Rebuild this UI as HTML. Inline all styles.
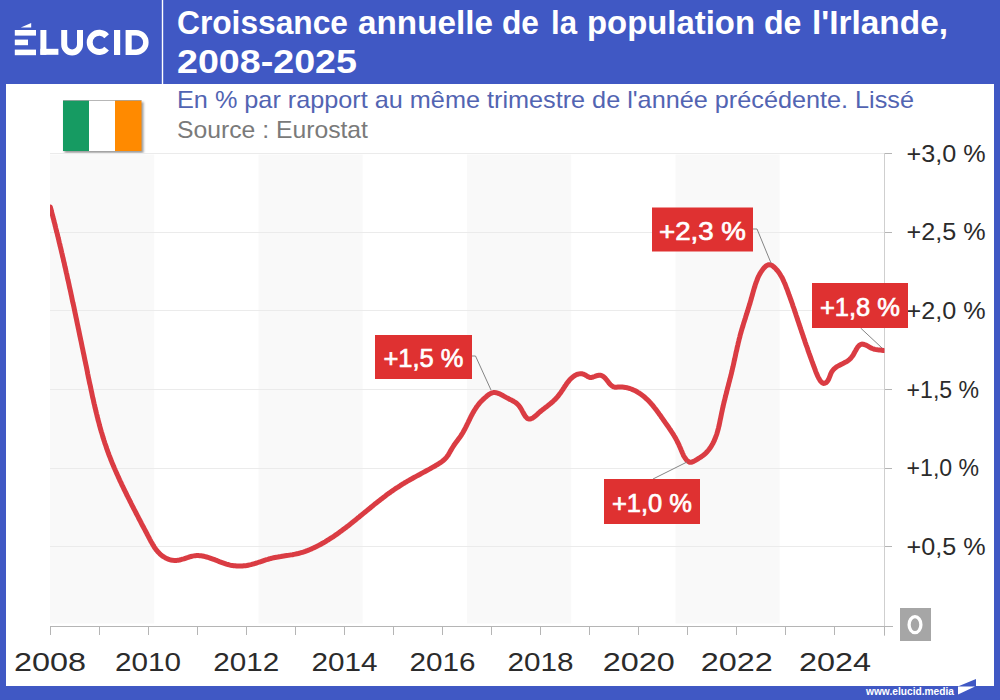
<!DOCTYPE html>
<html><head><meta charset="utf-8"><style>
html,body{margin:0;padding:0;background:#fff;}
body{width:1000px;height:700px;overflow:hidden;}
svg{display:block;font-family:"Liberation Sans",sans-serif;}
</style></head><body>
<svg width="1000" height="700" viewBox="0 0 1000 700">
<rect x="0" y="0" width="1000" height="700" fill="#4058c4"/>
<rect x="6" y="84" width="988" height="602" fill="#fff"/>
<line x1="162.5" y1="0" x2="162.5" y2="84" stroke="#fff" stroke-width="1.4"/>
<!-- logo -->
<g fill="#fff">
<rect x="14.8" y="30" width="21.2" height="5.6"/>
<rect x="14.8" y="39.6" width="13.2" height="5.6"/>
<rect x="14.8" y="49.6" width="21.2" height="5.6"/>
<polygon points="20.8,27.6 31.2,23 31.2,27.6"/>
<rect x="40.4" y="30" width="6" height="24.8"/>
<rect x="40.4" y="48.8" width="18" height="6"/>
<path d="M125.6,29.9 H136.1 A12.5,12.5 0 0 1 136.1,54.9 H125.6 Z M131.7,35.4 V49.4 H136.1 A7,7 0 0 0 136.1,35.4 Z" fill-rule="evenodd"/>
<rect x="114" y="30" width="6.2" height="25"/>
</g>
<g fill="none" stroke="#fff" stroke-width="6">
<path d="M64.2,30 V44.55 A7.9,7.9 0 0 0 80,44.55 V30"/>
<path d="M106.65,36.2 A9.6,9.6 0 1 0 106.65,48.6"/>
</g>
<!-- title -->
<g font-size="34" font-weight="bold" fill="#fff"><text x="177" y="34" textLength="171" lengthAdjust="spacingAndGlyphs">Croissance</text><text x="358" y="34" textLength="135" lengthAdjust="spacingAndGlyphs">annuelle</text><text x="502" y="34" textLength="37" lengthAdjust="spacingAndGlyphs">de</text><text x="551" y="34" textLength="26" lengthAdjust="spacingAndGlyphs">la</text><text x="587" y="34" textLength="168" lengthAdjust="spacingAndGlyphs">population</text><text x="764" y="34" textLength="37.5" lengthAdjust="spacingAndGlyphs">de</text><text x="812" y="34" textLength="136" lengthAdjust="spacingAndGlyphs">l'Irlande,</text></g>
<text x="177" y="73" font-size="34" font-weight="bold" fill="#fff" textLength="180" lengthAdjust="spacingAndGlyphs">2008-2025</text>
<text x="177" y="108.3" font-size="24" fill="#5264b2" textLength="737" lengthAdjust="spacingAndGlyphs">En % par rapport au même trimestre de l'année précédente. Lissé</text>
<text x="177" y="137.6" font-size="24" fill="#7a7a7a" textLength="191" lengthAdjust="spacingAndGlyphs">Source : Eurostat</text>
<!-- flag -->
<filter id="fshadow" x="-10%" y="-10%" width="130%" height="130%"><feGaussianBlur stdDeviation="0.8"/></filter>
<rect x="64.5" y="102" width="79" height="51" fill="#9c9c9c" filter="url(#fshadow)"/>
<rect x="63" y="100.5" width="26" height="50.5" fill="#169b62"/>
<rect x="89" y="100.5" width="26" height="50.5" fill="#ffffff"/>
<rect x="115" y="100.5" width="26.5" height="50.5" fill="#ff8a00"/>
<rect x="63" y="100" width="78.5" height="1" fill="#8a8a8a" opacity="0.6"/>
<defs><clipPath id="plotclip"><rect x="50" y="140" width="834.5" height="500"/></clipPath></defs>
<!-- chart -->
<rect x="50.0" y="154.5" width="104.2" height="469" fill="#f9f9f9"/><rect x="258.5" y="154.5" width="104.2" height="469" fill="#f9f9f9"/><rect x="467.0" y="154.5" width="104.2" height="469" fill="#f9f9f9"/><rect x="675.5" y="154.5" width="104.2" height="469" fill="#f9f9f9"/>
<line x1="50" y1="546.5" x2="884" y2="546.5" stroke="#ebebeb" stroke-width="1"/><line x1="884" y1="546.5" x2="892" y2="546.5" stroke="#b5b5b5" stroke-width="1"/><line x1="50" y1="468.5" x2="884" y2="468.5" stroke="#ebebeb" stroke-width="1"/><line x1="884" y1="468.5" x2="892" y2="468.5" stroke="#b5b5b5" stroke-width="1"/><line x1="50" y1="389.5" x2="884" y2="389.5" stroke="#ebebeb" stroke-width="1"/><line x1="884" y1="389.5" x2="892" y2="389.5" stroke="#b5b5b5" stroke-width="1"/><line x1="50" y1="310.5" x2="884" y2="310.5" stroke="#ebebeb" stroke-width="1"/><line x1="884" y1="310.5" x2="892" y2="310.5" stroke="#b5b5b5" stroke-width="1"/><line x1="50" y1="232.5" x2="884" y2="232.5" stroke="#ebebeb" stroke-width="1"/><line x1="884" y1="232.5" x2="892" y2="232.5" stroke="#b5b5b5" stroke-width="1"/><line x1="50" y1="153.5" x2="884" y2="153.5" stroke="#ebebeb" stroke-width="1"/><line x1="884" y1="153.5" x2="892" y2="153.5" stroke="#b5b5b5" stroke-width="1"/>
<line x1="884.5" y1="153" x2="884.5" y2="636" stroke="#cfcfcf" stroke-width="1"/>
<line x1="50" y1="626.5" x2="893" y2="626.5" stroke="#b5b5b5" stroke-width="1"/>
<line x1="50.5" y1="626" x2="50.5" y2="635" stroke="#b5b5b5" stroke-width="1"/><line x1="99.5" y1="626" x2="99.5" y2="635" stroke="#b5b5b5" stroke-width="1"/><line x1="148.5" y1="626" x2="148.5" y2="635" stroke="#b5b5b5" stroke-width="1"/><line x1="197.5" y1="626" x2="197.5" y2="635" stroke="#b5b5b5" stroke-width="1"/><line x1="246.5" y1="626" x2="246.5" y2="635" stroke="#b5b5b5" stroke-width="1"/><line x1="295.5" y1="626" x2="295.5" y2="635" stroke="#b5b5b5" stroke-width="1"/><line x1="344.5" y1="626" x2="344.5" y2="635" stroke="#b5b5b5" stroke-width="1"/><line x1="393.5" y1="626" x2="393.5" y2="635" stroke="#b5b5b5" stroke-width="1"/><line x1="442.5" y1="626" x2="442.5" y2="635" stroke="#b5b5b5" stroke-width="1"/><line x1="491.5" y1="626" x2="491.5" y2="635" stroke="#b5b5b5" stroke-width="1"/><line x1="540.5" y1="626" x2="540.5" y2="635" stroke="#b5b5b5" stroke-width="1"/><line x1="589.5" y1="626" x2="589.5" y2="635" stroke="#b5b5b5" stroke-width="1"/><line x1="638.5" y1="626" x2="638.5" y2="635" stroke="#b5b5b5" stroke-width="1"/><line x1="687.5" y1="626" x2="687.5" y2="635" stroke="#b5b5b5" stroke-width="1"/><line x1="736.5" y1="626" x2="736.5" y2="635" stroke="#b5b5b5" stroke-width="1"/><line x1="785.5" y1="626" x2="785.5" y2="635" stroke="#b5b5b5" stroke-width="1"/><line x1="834.5" y1="626" x2="834.5" y2="635" stroke="#b5b5b5" stroke-width="1"/><line x1="884.5" y1="626" x2="884.5" y2="635" stroke="#b5b5b5" stroke-width="1"/>
<text x="906.6" y="555.0" font-size="23" fill="#2b2b2b" textLength="79" lengthAdjust="spacingAndGlyphs">+0,5 %</text><text x="906.6" y="476.3" font-size="23" fill="#2b2b2b" textLength="72.5" lengthAdjust="spacingAndGlyphs">+1,0 %</text><text x="906.6" y="397.6" font-size="23" fill="#2b2b2b" textLength="72.5" lengthAdjust="spacingAndGlyphs">+1,5 %</text><text x="906.6" y="318.9" font-size="23" fill="#2b2b2b" textLength="79" lengthAdjust="spacingAndGlyphs">+2,0 %</text><text x="906.6" y="240.2" font-size="23" fill="#2b2b2b" textLength="79" lengthAdjust="spacingAndGlyphs">+2,5 %</text><text x="906.6" y="161.5" font-size="23" fill="#2b2b2b" textLength="79" lengthAdjust="spacingAndGlyphs">+3,0 %</text>
<rect x="900" y="608" width="31" height="33" fill="#a6a6a6"/>
<ellipse cx="915" cy="624.7" rx="5.9" ry="8" fill="none" stroke="#fff" stroke-width="3.3"/>
<text x="50.0" y="671" text-anchor="middle" font-size="26" fill="#2b2b2b" textLength="72" lengthAdjust="spacingAndGlyphs">2008</text><text x="148.1" y="671" text-anchor="middle" font-size="26" fill="#2b2b2b" textLength="66" lengthAdjust="spacingAndGlyphs">2010</text><text x="246.2" y="671" text-anchor="middle" font-size="26" fill="#2b2b2b" textLength="66" lengthAdjust="spacingAndGlyphs">2012</text><text x="344.4" y="671" text-anchor="middle" font-size="26" fill="#2b2b2b" textLength="66" lengthAdjust="spacingAndGlyphs">2014</text><text x="442.5" y="671" text-anchor="middle" font-size="26" fill="#2b2b2b" textLength="66" lengthAdjust="spacingAndGlyphs">2016</text><text x="540.6" y="671" text-anchor="middle" font-size="26" fill="#2b2b2b" textLength="66" lengthAdjust="spacingAndGlyphs">2018</text><text x="638.7" y="671" text-anchor="middle" font-size="26" fill="#2b2b2b" textLength="72" lengthAdjust="spacingAndGlyphs">2020</text><text x="736.8" y="671" text-anchor="middle" font-size="26" fill="#2b2b2b" textLength="72" lengthAdjust="spacingAndGlyphs">2022</text><text x="834.9" y="671" text-anchor="middle" font-size="26" fill="#2b2b2b" textLength="72" lengthAdjust="spacingAndGlyphs">2024</text>
<path d="M50.3,207.0L50.7,208.4L51.1,209.8L51.4,211.3L51.8,212.7L52.2,214.1L52.6,215.5L52.9,216.9L53.3,218.4L53.7,219.8L54.0,221.2L54.4,222.6L54.8,224.1L55.1,225.5L55.5,226.9L55.8,228.3L56.2,229.8L56.5,231.2L56.9,232.6L57.3,234.0L57.6,235.5L58.0,236.9L58.3,238.3L58.7,239.7L59.0,241.2L59.3,242.6L59.7,244.0L60.0,245.5L60.4,246.9L60.7,248.3L61.1,249.7L61.4,251.2L61.7,252.6L62.1,254.0L62.4,255.5L62.7,256.9L63.1,258.3L63.4,259.8L63.7,261.2L64.1,262.6L64.4,264.1L64.7,265.5L65.0,266.9L65.4,268.3L65.7,269.8L66.0,271.2L66.3,272.6L66.7,274.1L67.0,275.5L67.3,276.9L67.6,278.4L67.9,279.8L68.3,281.2L68.6,282.7L68.9,284.1L69.2,285.6L69.5,287.0L69.8,288.4L70.2,289.9L70.5,291.3L70.8,292.7L71.1,294.2L71.4,295.6L71.7,297.0L72.0,298.5L72.3,299.9L72.6,301.4L72.9,302.8L73.3,304.2L73.6,305.7L73.9,307.1L74.2,308.5L74.5,310.0L74.8,311.4L75.1,312.9L75.4,314.3L75.7,315.7L76.0,317.2L76.3,318.6L76.6,320.0L76.9,321.5L77.2,322.9L77.5,324.4L77.8,325.8L78.1,327.2L78.4,328.7L78.7,330.1L79.0,331.6L79.3,333.0L79.6,334.4L79.9,335.9L80.2,337.3L80.5,338.8L80.8,340.2L81.1,341.6L81.4,343.1L81.7,344.5L82.0,346.0L82.3,347.4L82.6,348.8L82.9,350.3L83.2,351.7L83.5,353.2L83.8,354.6L84.1,356.1L84.4,357.5L84.7,358.9L85.0,360.4L85.3,361.8L85.6,363.3L85.9,364.7L86.2,366.1L86.5,367.6L86.8,369.0L87.1,370.5L87.4,371.9L87.6,373.4L87.9,374.8L88.2,376.2L88.5,377.7L88.8,379.1L89.1,380.6L89.4,382.0L89.7,383.5L90.1,384.9L90.4,386.3L90.7,387.8L91.0,389.2L91.3,390.7L91.6,392.1L91.9,393.5L92.2,395.0L92.5,396.4L92.8,397.9L93.2,399.3L93.5,400.7L93.8,402.2L94.1,403.6L94.5,405.0L94.8,406.5L95.1,407.9L95.5,409.3L95.8,410.8L96.2,412.2L96.5,413.6L96.9,415.0L97.2,416.5L97.6,417.9L97.9,419.3L98.3,420.7L98.7,422.2L99.1,423.6L99.4,425.0L99.8,426.4L100.2,427.8L100.6,429.2L101.0,430.6L101.4,432.0L101.9,433.5L102.3,434.9L102.7,436.3L103.1,437.7L103.6,439.1L104.0,440.5L104.5,441.9L104.9,443.3L105.4,444.6L105.9,446.0L106.3,447.4L106.8,448.8L107.3,450.2L107.8,451.6L108.3,453.0L108.8,454.3L109.3,455.7L109.9,457.1L110.4,458.4L110.9,459.8L111.5,461.2L112.0,462.5L112.6,463.9L113.2,465.3L113.7,466.6L114.3,468.0L114.9,469.3L115.5,470.7L116.1,472.0L116.7,473.4L117.3,474.7L117.9,476.0L118.5,477.4L119.1,478.7L119.7,480.1L120.3,481.4L121.0,482.7L121.6,484.1L122.2,485.4L122.9,486.7L123.5,488.0L124.1,489.4L124.8,490.7L125.4,492.0L126.1,493.3L126.7,494.7L127.4,496.0L128.0,497.3L128.7,498.6L129.4,499.9L130.0,501.2L130.7,502.5L131.3,503.8L132.0,505.2L132.7,506.5L133.3,507.8L134.0,509.1L134.7,510.4L135.4,511.7L136.0,513.0L136.7,514.3L137.4,515.6L138.1,516.9L138.7,518.2L139.4,519.5L140.1,520.8L140.8,522.1L141.4,523.4L142.1,524.7L142.8,526.0L143.5,527.3L144.2,528.6L144.9,529.9L145.6,531.2L146.3,532.5L146.9,533.8L147.6,535.1L148.3,536.4L149.0,537.7L149.7,539.1L150.4,540.4L151.1,541.7L151.9,543.0L152.6,544.3L153.4,545.5L154.1,546.8L154.9,548.0L155.8,549.2L156.7,550.4L157.6,551.5L158.6,552.6L159.6,553.6L160.7,554.6L161.8,555.5L163.0,556.4L164.3,557.2L165.5,557.9L166.8,558.5L168.2,559.1L169.6,559.6L171.0,560.0L172.4,560.2L173.8,560.4L175.2,560.5L176.7,560.4L178.1,560.2L179.5,560.0L181.0,559.6L182.4,559.2L183.9,558.8L185.3,558.3L186.7,557.8L188.2,557.4L189.6,556.9L191.0,556.5L192.5,556.1L193.9,555.9L195.3,555.7L196.7,555.6L198.2,555.6L199.6,555.7L201.0,555.8L202.4,556.0L203.8,556.3L205.2,556.6L206.6,557.0L208.0,557.4L209.4,557.8L210.8,558.3L212.2,558.8L213.7,559.3L215.1,559.9L216.5,560.4L217.9,561.0L219.3,561.6L220.7,562.1L222.1,562.6L223.6,563.1L225.0,563.6L226.4,564.1L227.9,564.5L229.3,564.9L230.7,565.2L232.2,565.4L233.6,565.7L235.1,565.8L236.6,566.0L238.0,566.0L239.5,566.0L240.9,566.0L242.4,566.0L243.8,565.8L245.3,565.7L246.7,565.5L248.2,565.2L249.6,564.9L251.0,564.6L252.5,564.2L253.9,563.8L255.3,563.4L256.7,563.0L258.1,562.5L259.5,562.0L260.9,561.6L262.3,561.1L263.7,560.6L265.1,560.1L266.5,559.7L267.9,559.3L269.3,558.8L270.7,558.5L272.2,558.1L273.6,557.8L275.0,557.5L276.5,557.2L277.9,557.0L279.4,556.7L280.8,556.5L282.3,556.2L283.8,556.0L285.2,555.8L286.7,555.6L288.1,555.4L289.6,555.1L291.0,554.9L292.5,554.7L293.9,554.4L295.4,554.1L296.8,553.8L298.2,553.5L299.7,553.1L301.1,552.7L302.5,552.3L303.9,551.9L305.3,551.4L306.6,550.9L308.0,550.4L309.4,549.8L310.7,549.2L312.1,548.6L313.4,548.0L314.8,547.4L316.1,546.7L317.4,546.1L318.7,545.4L320.0,544.7L321.3,544.0L322.6,543.2L323.9,542.5L325.1,541.8L326.4,541.0L327.6,540.2L328.9,539.5L330.1,538.7L331.3,537.9L332.6,537.1L333.8,536.3L335.0,535.4L336.2,534.6L337.4,533.8L338.6,532.9L339.8,532.0L341.0,531.2L342.2,530.3L343.3,529.4L344.5,528.6L345.7,527.7L346.8,526.8L348.0,525.9L349.2,525.0L350.3,524.1L351.5,523.1L352.6,522.2L353.8,521.3L354.9,520.4L356.1,519.5L357.2,518.5L358.4,517.6L359.5,516.7L360.6,515.7L361.8,514.8L362.9,513.9L364.1,512.9L365.2,512.0L366.3,511.1L367.5,510.1L368.6,509.2L369.8,508.3L370.9,507.3L372.0,506.4L373.2,505.5L374.3,504.5L375.5,503.6L376.6,502.7L377.8,501.8L378.9,500.9L380.1,500.0L381.3,499.1L382.4,498.2L383.6,497.3L384.8,496.4L385.9,495.5L387.1,494.6L388.3,493.7L389.5,492.9L390.7,492.0L391.9,491.2L393.1,490.3L394.3,489.5L395.5,488.7L396.7,487.9L398.0,487.1L399.2,486.3L400.4,485.5L401.7,484.7L402.9,483.9L404.2,483.2L405.4,482.4L406.7,481.7L408.0,480.9L409.3,480.2L410.5,479.5L411.8,478.8L413.1,478.0L414.4,477.3L415.7,476.6L417.0,475.9L418.3,475.2L419.6,474.5L420.8,473.8L422.1,473.1L423.4,472.4L424.7,471.7L426.0,471.0L427.3,470.3L428.6,469.6L429.9,468.9L431.2,468.1L432.4,467.4L433.7,466.7L435.0,466.0L436.3,465.2L437.5,464.5L438.8,463.7L440.0,462.9L441.2,462.1L442.4,461.2L443.5,460.3L444.5,459.4L445.6,458.3L446.5,457.3L447.4,456.1L448.3,454.9L449.0,453.6L449.8,452.2L450.5,450.9L451.3,449.6L452.1,448.3L452.9,447.0L453.7,445.7L454.5,444.5L455.4,443.3L456.3,442.1L457.1,441.0L458.0,439.8L458.9,438.6L459.7,437.4L460.6,436.2L461.4,435.0L462.1,433.8L462.9,432.6L463.6,431.3L464.3,430.0L465.0,428.7L465.7,427.4L466.3,426.1L467.0,424.8L467.6,423.5L468.3,422.1L468.9,420.8L469.6,419.5L470.2,418.1L470.9,416.8L471.5,415.5L472.2,414.2L472.9,412.9L473.7,411.6L474.4,410.3L475.2,409.1L476.0,407.9L476.8,406.6L477.7,405.5L478.6,404.3L479.5,403.2L480.5,402.0L481.5,401.0L482.6,399.9L483.7,398.9L484.8,397.8L486.0,396.8L487.1,395.8L488.3,394.9L489.5,394.1L490.8,393.4L492.0,392.9L493.3,392.6L494.7,392.6L496.1,392.7L497.5,393.1L498.9,393.6L500.4,394.3L501.8,395.0L503.3,395.8L504.7,396.6L506.1,397.4L507.4,398.1L508.8,398.8L510.0,399.5L511.3,400.1L512.5,400.7L513.6,401.3L514.7,402.0L515.8,402.7L516.8,403.5L517.8,404.5L518.8,405.5L519.7,406.7L520.6,408.1L521.5,409.5L522.3,411.1L523.1,412.6L524.0,414.1L524.8,415.5L525.7,416.8L526.7,417.8L527.6,418.6L528.7,419.0L529.8,419.1L531.0,418.8L532.2,418.3L533.4,417.5L534.7,416.5L536.0,415.5L537.3,414.3L538.5,413.2L539.8,412.0L541.0,411.0L542.1,410.1L543.2,409.2L544.3,408.4L545.4,407.6L546.5,406.7L547.6,405.9L548.7,405.0L549.8,404.1L550.9,403.2L552.0,402.3L553.1,401.3L554.1,400.3L555.2,399.3L556.2,398.2L557.2,397.1L558.2,396.0L559.1,394.8L560.0,393.6L560.9,392.4L561.7,391.2L562.6,389.9L563.4,388.6L564.2,387.4L565.0,386.1L565.9,384.9L566.7,383.6L567.6,382.4L568.5,381.3L569.5,380.1L570.5,379.1L571.6,378.0L572.7,377.1L573.9,376.2L575.1,375.4L576.4,374.7L577.8,374.2L579.1,373.9L580.5,373.7L581.9,373.8L583.3,374.1L584.7,374.7L586.1,375.5L587.5,376.4L588.9,377.1L590.3,377.5L591.7,377.4L593.2,377.0L594.6,376.5L596.1,375.9L597.6,375.5L599.0,375.3L600.4,375.3L601.8,375.6L603.0,376.3L604.2,377.2L605.3,378.3L606.3,379.5L607.3,380.8L608.3,382.1L609.3,383.4L610.3,384.5L611.4,385.5L612.5,386.3L613.8,386.9L615.1,387.2L616.5,387.2L617.9,387.1L619.4,387.0L620.9,387.0L622.4,387.1L623.9,387.2L625.4,387.4L626.9,387.7L628.3,388.1L629.8,388.5L631.2,389.0L632.6,389.6L634.0,390.2L635.3,390.8L636.6,391.5L637.9,392.3L639.1,393.0L640.3,393.8L641.5,394.7L642.6,395.5L643.8,396.4L644.9,397.4L645.9,398.3L647.0,399.3L648.0,400.3L649.0,401.3L650.0,402.4L651.0,403.5L652.0,404.6L652.9,405.7L653.8,406.8L654.7,408.0L655.6,409.1L656.5,410.3L657.4,411.5L658.3,412.7L659.1,413.9L660.0,415.1L660.9,416.3L661.7,417.5L662.6,418.7L663.4,420.0L664.3,421.2L665.1,422.4L666.0,423.6L666.8,424.8L667.7,426.0L668.5,427.2L669.3,428.4L670.2,429.6L671.0,430.9L671.8,432.1L672.6,433.3L673.4,434.6L674.1,435.8L674.9,437.1L675.6,438.3L676.3,439.6L677.0,440.9L677.6,442.2L678.3,443.5L678.9,444.8L679.5,446.2L680.1,447.5L680.7,448.9L681.2,450.2L681.8,451.6L682.4,453.0L683.0,454.3L683.6,455.7L684.4,457.0L685.2,458.3L686.2,459.6L687.2,460.7L688.4,461.6L689.6,462.2L690.9,462.3L692.2,462.0L693.6,461.4L695.0,460.6L696.3,459.8L697.7,459.0L699.0,458.2L700.3,457.4L701.5,456.6L702.7,455.7L703.9,454.8L705.0,453.8L706.1,452.8L707.1,451.7L708.1,450.6L709.0,449.5L709.9,448.3L710.7,447.1L711.5,445.9L712.2,444.6L712.9,443.4L713.5,442.1L714.2,440.8L714.7,439.4L715.3,438.1L715.8,436.7L716.3,435.4L716.8,434.0L717.2,432.6L717.6,431.2L718.0,429.8L718.4,428.3L718.7,426.9L719.1,425.5L719.4,424.0L719.7,422.6L720.0,421.1L720.3,419.6L720.6,418.2L720.9,416.7L721.2,415.2L721.5,413.8L721.8,412.3L722.1,410.9L722.4,409.4L722.7,408.0L723.1,406.5L723.4,405.1L723.7,403.7L724.1,402.2L724.4,400.8L724.8,399.4L725.1,397.9L725.5,396.5L725.8,395.1L726.2,393.7L726.6,392.3L726.9,390.8L727.3,389.4L727.6,388.0L728.0,386.6L728.4,385.2L728.7,383.8L729.1,382.4L729.5,380.9L729.8,379.5L730.2,378.1L730.6,376.7L730.9,375.3L731.3,373.9L731.6,372.4L732.0,371.0L732.3,369.6L732.6,368.2L733.0,366.7L733.3,365.3L733.6,363.9L733.9,362.4L734.2,361.0L734.6,359.5L734.9,358.1L735.2,356.7L735.5,355.2L735.8,353.8L736.1,352.3L736.5,350.9L736.8,349.5L737.1,348.0L737.4,346.6L737.8,345.1L738.1,343.7L738.4,342.3L738.8,340.8L739.1,339.4L739.5,338.0L739.9,336.6L740.2,335.1L740.6,333.7L741.0,332.3L741.4,330.9L741.8,329.5L742.2,328.1L742.7,326.7L743.1,325.3L743.5,323.9L743.9,322.5L744.4,321.1L744.8,319.7L745.3,318.3L745.7,316.9L746.1,315.5L746.6,314.1L747.0,312.7L747.5,311.3L747.9,309.8L748.4,308.4L748.8,307.0L749.2,305.6L749.7,304.2L750.1,302.8L750.5,301.4L750.9,300.0L751.3,298.5L751.7,297.1L752.1,295.7L752.5,294.3L752.9,292.8L753.3,291.4L753.7,290.0L754.1,288.6L754.6,287.2L755.0,285.8L755.4,284.4L755.9,283.0L756.4,281.7L756.9,280.3L757.4,279.0L757.9,277.7L758.5,276.4L759.2,275.1L759.9,273.8L760.7,272.4L761.6,271.1L762.5,269.8L763.5,268.5L764.6,267.3L765.8,266.2L767.0,265.4L768.3,264.8L769.5,264.7L770.8,265.0L772.1,265.6L773.3,266.5L774.5,267.5L775.6,268.6L776.6,269.7L777.6,270.8L778.5,272.0L779.4,273.2L780.2,274.5L780.9,275.7L781.7,277.0L782.4,278.3L783.0,279.6L783.6,280.9L784.2,282.3L784.8,283.6L785.4,285.0L785.9,286.4L786.4,287.8L787.0,289.1L787.5,290.5L788.0,291.9L788.5,293.3L789.0,294.7L789.5,296.0L790.0,297.4L790.5,298.8L791.0,300.2L791.5,301.6L792.0,303.0L792.5,304.4L792.9,305.8L793.4,307.1L793.9,308.5L794.4,309.9L794.8,311.3L795.3,312.7L795.8,314.1L796.2,315.5L796.7,316.9L797.2,318.3L797.6,319.7L798.1,321.1L798.6,322.5L799.0,323.9L799.5,325.3L800.0,326.7L800.4,328.1L800.9,329.5L801.4,330.9L801.8,332.2L802.3,333.6L802.8,335.0L803.2,336.4L803.7,337.8L804.2,339.2L804.7,340.6L805.1,342.0L805.6,343.4L806.1,344.8L806.6,346.1L807.1,347.5L807.6,348.9L808.0,350.3L808.5,351.7L809.0,353.1L809.5,354.4L810.0,355.8L810.5,357.2L811.0,358.6L811.5,360.0L812.0,361.4L812.5,362.7L813.0,364.1L813.5,365.5L814.1,366.9L814.6,368.3L815.1,369.7L815.6,371.1L816.1,372.4L816.7,373.8L817.3,375.2L817.9,376.6L818.6,377.9L819.4,379.3L820.2,380.6L821.2,381.8L822.2,382.8L823.3,383.4L824.6,383.3L825.9,382.7L827.0,381.8L828.0,380.5L828.7,379.1L829.3,377.6L829.9,376.1L830.5,374.5L831.1,373.1L831.8,371.7L832.7,370.5L833.6,369.4L834.7,368.4L835.8,367.5L837.0,366.6L838.3,365.9L839.6,365.2L840.9,364.5L842.1,363.9L843.4,363.3L844.6,362.6L845.8,362.0L847.0,361.3L848.2,360.5L849.3,359.6L850.3,358.7L851.3,357.6L852.3,356.3L853.2,355.0L854.0,353.5L854.8,352.0L855.7,350.5L856.5,349.0L857.3,347.7L858.2,346.4L859.2,345.4L860.2,344.7L861.3,344.2L862.4,344.1L863.7,344.3L865.1,344.8L866.5,345.4L867.9,346.2L869.4,347.1L870.8,347.9L872.2,348.5L873.6,349.0L874.9,349.4L876.2,349.6L877.6,349.8L879.0,349.9L880.4,350.0L881.9,350.2L883.5,350.5" fill="none" stroke="#da3c43" stroke-width="5" clip-path="url(#plotclip)" stroke-linecap="round" stroke-linejoin="round"/>
<polyline points="471.5,356 475.5,356 491,390" fill="none" stroke="#858585" stroke-width="1"/><polyline points="752.5,229 757,229 771,263" fill="none" stroke="#858585" stroke-width="1"/><polyline points="653,479 687,462" fill="none" stroke="#858585" stroke-width="1"/><polyline points="860.6,328 882,348" fill="none" stroke="#858585" stroke-width="1"/>
<rect x="375" y="335" width="97" height="44" fill="#df3131"/><text x="423.5" y="367.3" text-anchor="middle" font-size="26.2" fill="#fff" stroke="#fff" stroke-width="0.7" textLength="80" lengthAdjust="spacingAndGlyphs">+1,5 %</text>
<rect x="652" y="207.5" width="101" height="44" fill="#df3131"/><text x="702.5" y="239.8" text-anchor="middle" font-size="26.2" fill="#fff" stroke="#fff" stroke-width="0.7" textLength="87" lengthAdjust="spacingAndGlyphs">+2,3 %</text>
<rect x="604" y="479" width="96" height="45" fill="#df3131"/><text x="652.0" y="511.8" text-anchor="middle" font-size="26.2" fill="#fff" stroke="#fff" stroke-width="0.7" textLength="80" lengthAdjust="spacingAndGlyphs">+1,0 %</text>
<rect x="812" y="283" width="96" height="45" fill="#df3131"/><text x="860.0" y="315.8" text-anchor="middle" font-size="26.2" fill="#fff" stroke="#fff" stroke-width="0.7" textLength="80" lengthAdjust="spacingAndGlyphs">+1,8 %</text>
<!-- footer -->
<text x="866" y="694.5" font-size="10.5" font-weight="bold" fill="#fff" textLength="88" lengthAdjust="spacingAndGlyphs">www.elucid.media</text>
<polygon points="959,686 976,679 976,686" fill="#4058c4"/>
<polygon points="958,686.5 975,686.5 958,694.5" fill="#fff"/>
</svg>
</body></html>
